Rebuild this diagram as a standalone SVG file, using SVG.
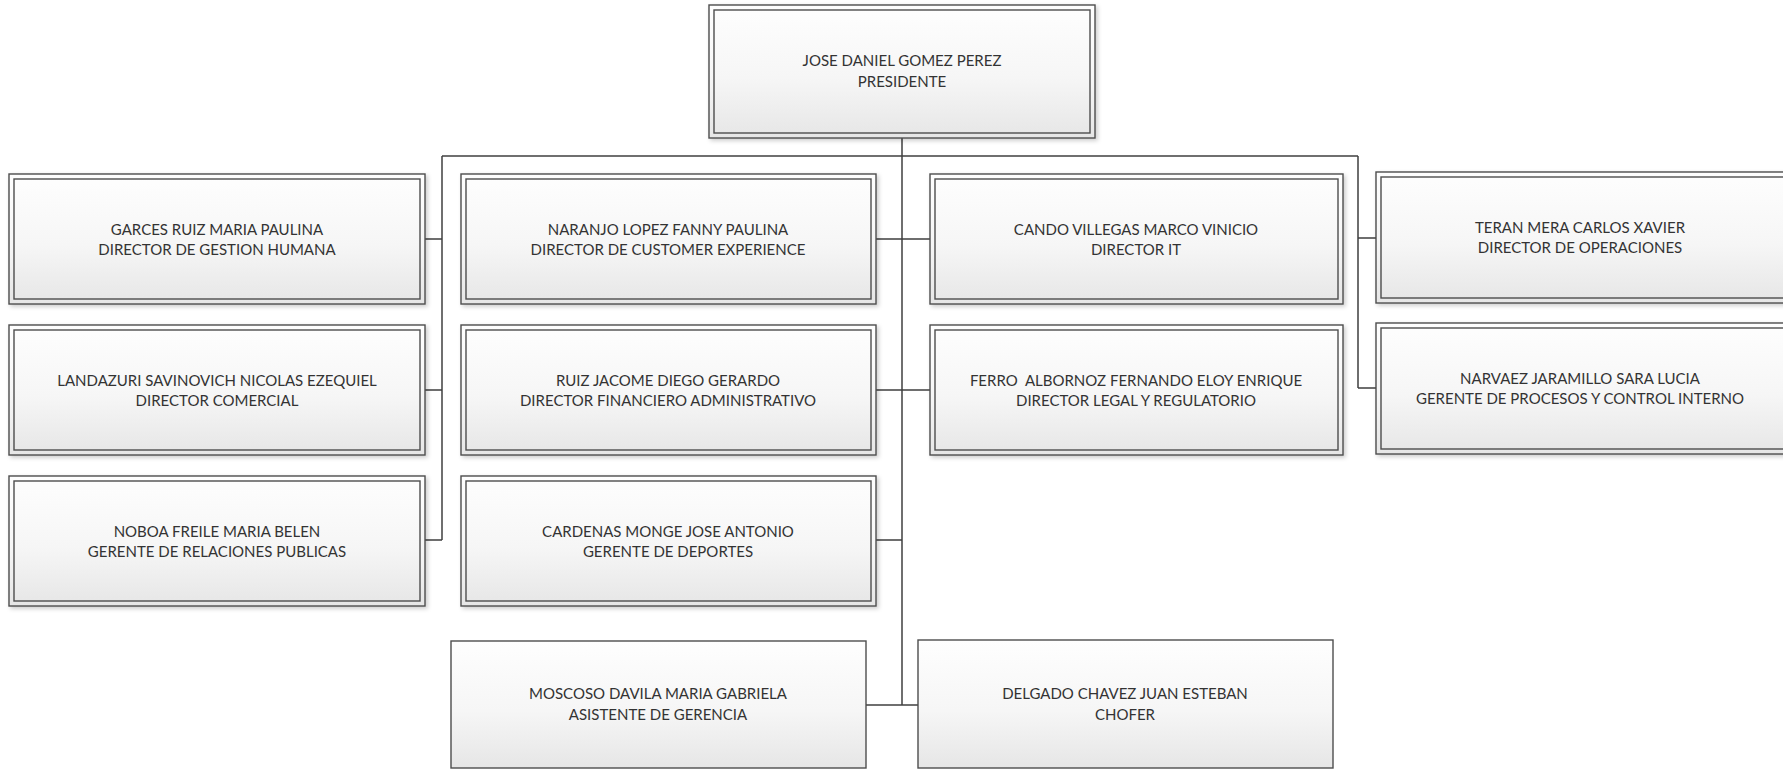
<svg xmlns="http://www.w3.org/2000/svg" width="1783" height="770" viewBox="0 0 1783 770">
  <style>
    .frame { fill: url(#boxFill); stroke: #4d4d4d; stroke-width: 1.4; filter: url(#shade); }
    .inner { fill: none; stroke: #4d4d4d; stroke-width: 1.4; }
    .single { fill: url(#boxFill); stroke: #4d4d4d; stroke-width: 1.4; }
    .label { font-family: Lato, "Open Sans", sans-serif; font-size: 15px; fill: #333333; text-anchor: middle; }
    .wire { fill: none; stroke: #3f3f3f; stroke-width: 1.5; }
  </style>
  <defs>
    <linearGradient id="boxFill" x1="0" y1="0" x2="0" y2="1">
      <stop offset="0" stop-color="#fefefe"/>
      <stop offset="0.55" stop-color="#f6f6f6"/>
      <stop offset="1" stop-color="#e6e6e6"/>
    </linearGradient>
    <filter id="shade" x="-5%" y="-5%" width="115%" height="120%">
      <feDropShadow dx="2" dy="2" stdDeviation="2" flood-color="#000000" flood-opacity="0.2"/>
    </filter>
  </defs>

  <rect width="1783" height="770" fill="#ffffff"/>

  <!-- connectors -->
  <g id="connectors" class="wire">
    <path d="M902,138 V705"/>
    <path d="M442,156 H1358"/>
    <path d="M442,156 V540"/>
    <path d="M425,239 H442 M425,390 H442 M425,540 H442"/>
    <path d="M876,239 H930 M876,390 H930 M876,540 H902"/>
    <path d="M1358,156 V388 M1358,238 H1376 M1358,388 H1376"/>
    <path d="M866,705 H918"/>
  </g>

  <!-- president -->
  <g id="n-gomez">
    <rect class="frame" x="709" y="5" width="386" height="133"/>
    <rect class="inner" x="714" y="10" width="376" height="123"/>
    <text class="label" x="902" y="66">JOSE DANIEL GOMEZ PEREZ</text>
    <text class="label" x="902" y="87">PRESIDENTE</text>
  </g>

  <!-- left column -->
  <g id="n-garces">
    <rect class="frame" x="9" y="174" width="416" height="130"/>
    <rect class="inner" x="14" y="179" width="406" height="120"/>
    <text class="label" x="217" y="235">GARCES RUIZ MARIA PAULINA</text>
    <text class="label" x="217" y="255">DIRECTOR DE GESTION HUMANA</text>
  </g>
  <g id="n-landazuri">
    <rect class="frame" x="9" y="325" width="416" height="130"/>
    <rect class="inner" x="14" y="330" width="406" height="120"/>
    <text class="label" x="217" y="386">LANDAZURI SAVINOVICH NICOLAS EZEQUIEL</text>
    <text class="label" x="217" y="406">DIRECTOR COMERCIAL</text>
  </g>
  <g id="n-noboa">
    <rect class="frame" x="9" y="476" width="416" height="130"/>
    <rect class="inner" x="14" y="481" width="406" height="120"/>
    <text class="label" x="217" y="537">NOBOA FREILE MARIA BELEN</text>
    <text class="label" x="217" y="557">GERENTE DE RELACIONES PUBLICAS</text>
  </g>

  <!-- centre-left column -->
  <g id="n-naranjo">
    <rect class="frame" x="461" y="174" width="415" height="130"/>
    <rect class="inner" x="466" y="179" width="405" height="120"/>
    <text class="label" x="668" y="235">NARANJO LOPEZ FANNY PAULINA</text>
    <text class="label" x="668" y="255">DIRECTOR DE CUSTOMER EXPERIENCE</text>
  </g>
  <g id="n-ruiz">
    <rect class="frame" x="461" y="325" width="415" height="130"/>
    <rect class="inner" x="466" y="330" width="405" height="120"/>
    <text class="label" x="668" y="386">RUIZ JACOME DIEGO GERARDO</text>
    <text class="label" x="668" y="406">DIRECTOR FINANCIERO ADMINISTRATIVO</text>
  </g>
  <g id="n-cardenas">
    <rect class="frame" x="461" y="476" width="415" height="130"/>
    <rect class="inner" x="466" y="481" width="405" height="120"/>
    <text class="label" x="668" y="537">CARDENAS MONGE JOSE ANTONIO</text>
    <text class="label" x="668" y="557">GERENTE DE DEPORTES</text>
  </g>

  <!-- centre-right column -->
  <g id="n-cando">
    <rect class="frame" x="930" y="174" width="413" height="130"/>
    <rect class="inner" x="935" y="179" width="403" height="120"/>
    <text class="label" x="1136" y="235">CANDO VILLEGAS MARCO VINICIO</text>
    <text class="label" x="1136" y="255">DIRECTOR IT</text>
  </g>
  <g id="n-ferro">
    <rect class="frame" x="930" y="325" width="413" height="130"/>
    <rect class="inner" x="935" y="330" width="403" height="120"/>
    <text class="label" x="1136" y="386" xml:space="preserve">FERRO  ALBORNOZ FERNANDO ELOY ENRIQUE</text>
    <text class="label" x="1136" y="406">DIRECTOR LEGAL Y REGULATORIO</text>
  </g>

  <!-- right column -->
  <g id="n-teran">
    <rect class="frame" x="1376" y="172" width="420" height="131"/>
    <rect class="inner" x="1381" y="177" width="410" height="121"/>
    <text class="label" x="1580" y="233">TERAN MERA CARLOS XAVIER</text>
    <text class="label" x="1580" y="253">DIRECTOR DE OPERACIONES</text>
  </g>
  <g id="n-narvaez">
    <rect class="frame" x="1376" y="323" width="420" height="131"/>
    <rect class="inner" x="1381" y="328" width="410" height="121"/>
    <text class="label" x="1580" y="384">NARVAEZ JARAMILLO SARA LUCIA</text>
    <text class="label" x="1580" y="404">GERENTE DE PROCESOS Y CONTROL INTERNO</text>
  </g>

  <!-- staff -->
  <g id="n-moscoso">
    <rect class="single" x="451" y="641" width="415" height="127"/>
    <text class="label" x="658" y="699">MOSCOSO DAVILA MARIA GABRIELA</text>
    <text class="label" x="658" y="720">ASISTENTE DE GERENCIA</text>
  </g>
  <g id="n-delgado">
    <rect class="single" x="918" y="640" width="415" height="128"/>
    <text class="label" x="1125" y="699">DELGADO CHAVEZ JUAN ESTEBAN</text>
    <text class="label" x="1125" y="720">CHOFER</text>
  </g>
</svg>
